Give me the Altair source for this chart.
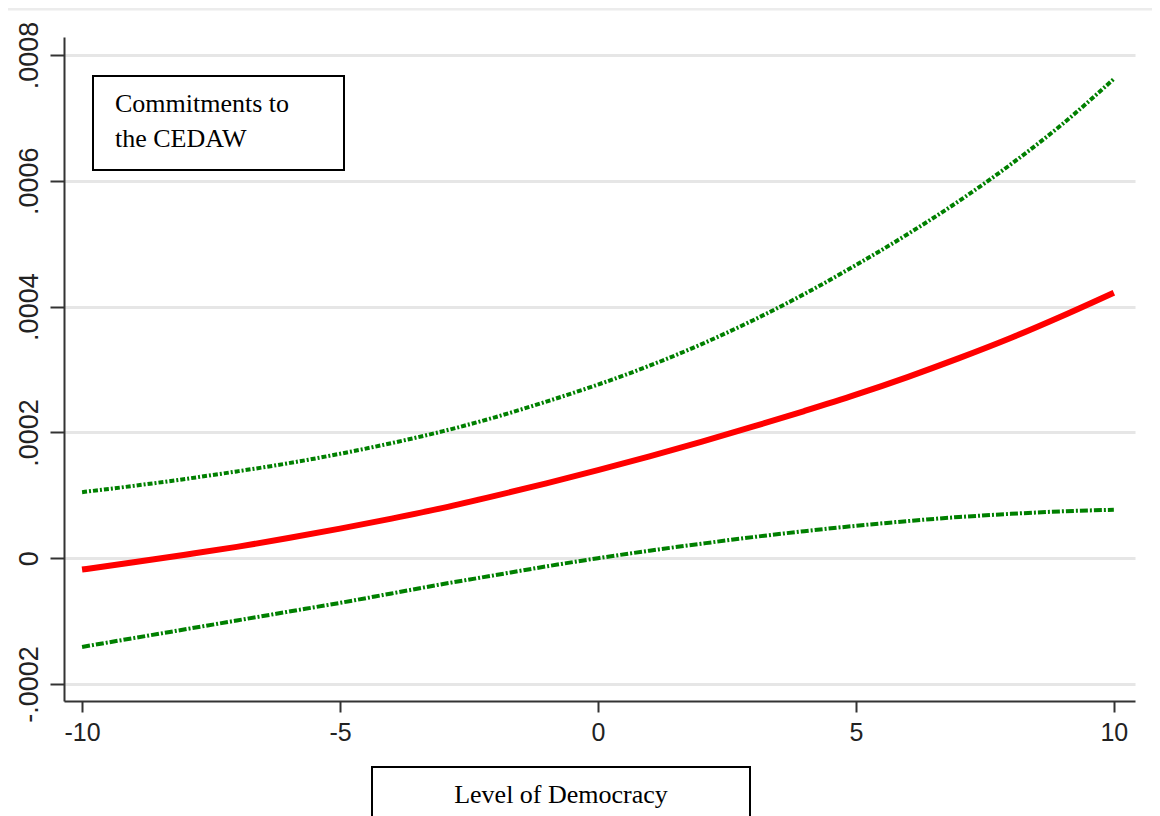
import altair as alt
import pandas as pd

democracy = list(range(-10, 11))
effect = [-1.8e-5, -0.65e-5, 0.55e-5, 1.8e-5, 3.2e-5, 4.7e-5, 6.3e-5, 8.0e-5, 9.9e-5, 11.9e-5,
          14.0e-5, 16.2e-5, 18.5e-5, 20.9e-5, 23.4e-5, 26.0e-5, 28.8e-5, 31.8e-5, 35.0e-5, 38.5e-5, 42.2e-5]
upper = [10.5e-5, 11.5e-5, 12.6e-5, 13.8e-5, 15.1e-5, 16.6e-5, 18.3e-5, 20.2e-5, 22.4e-5, 24.9e-5,
         27.6e-5, 30.6e-5, 34.0e-5, 37.8e-5, 42.0e-5, 46.6e-5, 51.5e-5, 56.8e-5, 62.6e-5, 69.0e-5, 76.2e-5]
lower = [-14.1e-5, -12.7e-5, -11.3e-5, -9.9e-5, -8.5e-5, -7.1e-5, -5.6e-5, -4.1e-5, -2.7e-5, -1.3e-5,
         0.0, 1.2e-5, 2.3e-5, 3.35e-5, 4.3e-5, 5.15e-5, 5.9e-5, 6.55e-5, 7.05e-5, 7.45e-5, 7.7e-5]

x_ticks = [-10, -5, 0, 5, 10]
y_ticks = [-0.0002, 0, 0.0002, 0.0004, 0.0006, 0.0008]

box_text = ["Commitments to", "the CEDAW"]
x_title = "Level of Democracy"

df = pd.DataFrame({"democracy": democracy, "effect": effect, "upper": upper, "lower": lower})

x_enc = alt.X("democracy:Q",
              scale=alt.Scale(domain=[-10.35, 10.41], nice=False, zero=False),
              axis=alt.Axis(values=x_ticks, title="", grid=False,
                            labelExpr="datum.value < 0 ? '-' + abs(datum.value) : '' + datum.value",
                            labelFont="Liberation Sans", labelFontSize=25, labelColor="#222222",
                            labelBaseline="alphabetic", labelPadding=28,
                            tickSize=11, tickWidth=2, tickColor="#333333",
                            domainColor="#333333", domainWidth=2))

y_axis = alt.Axis(values=y_ticks, title="", grid=True, gridColor="#e6e6e6", gridWidth=3,
                  labelExpr="datum.value == 0 ? '0' : (datum.value < 0 ? '-' : '') + '.' + format(abs(datum.value) * 10000, '04d')",
                  labelFont="Liberation Sans", labelFontSize=27, labelColor="#222222",
                  labelAngle=270, labelAlign="center", labelBaseline="alphabetic", labelPadding=13,
                  tickSize=14, tickWidth=2, tickColor="#333333",
                  domainColor="#333333", domainWidth=2)
y_scale = alt.Scale(domain=[-0.000227, 0.0008286], nice=False, zero=False)

base = alt.Chart(df)

red = base.mark_line(color="#ff0000", strokeWidth=6, interpolate="monotone").encode(
    x=x_enc, y=alt.Y("effect:Q", scale=y_scale, axis=y_axis))
up = base.mark_line(color="#008000", strokeWidth=4, strokeDash=[5, 2, 2, 2], interpolate="monotone").encode(
    x="democracy:Q", y="upper:Q")
lo = base.mark_line(color="#008000", strokeWidth=4, strokeDash=[8, 2, 2, 2], interpolate="monotone").encode(
    x="democracy:Q", y="lower:Q")

one = pd.DataFrame({"k": [0]})
top_rule = alt.Chart(one).mark_rule(color="#ececec", strokeWidth=3).encode(
    x=alt.value(-58), x2=alt.value(1100), y=alt.value(-28))

box1 = alt.Chart(one).mark_rect(fill="white", stroke="black", strokeWidth=2).encode(
    x=alt.value(29), x2=alt.value(280), y=alt.value(39), y2=alt.value(133))
t1 = alt.Chart(pd.DataFrame({"t": [box_text[0]]})).mark_text(
    font="Liberation Serif", fontSize=26, align="left", baseline="alphabetic", color="black").encode(
    x=alt.value(51), y=alt.value(75), text="t:N")
t2 = alt.Chart(pd.DataFrame({"t": [box_text[1]]})).mark_text(
    font="Liberation Serif", fontSize=26, align="left", baseline="alphabetic", color="black").encode(
    x=alt.value(51), y=alt.value(110), text="t:N")

box2 = alt.Chart(one).mark_rect(fill="white", stroke="black", strokeWidth=2).encode(
    x=alt.value(308), x2=alt.value(686), y=alt.value(730), y2=alt.value(840))
t3 = alt.Chart(pd.DataFrame({"t": [x_title]})).mark_text(
    font="Liberation Serif", fontSize=26, align="center", baseline="alphabetic", color="black").encode(
    x=alt.value(497), y=alt.value(766), text="t:N")

chart = alt.layer(top_rule, red, up, lo, box1, t1, t2, box2, t3).properties(
    width=1071, height=664,
    autosize="none",
    padding={"left": 56, "top": 29, "right": 17, "bottom": 120},
).configure_view(stroke=None)

chart.save("out.html", embed_options={"renderer": "svg", "actions": False})
